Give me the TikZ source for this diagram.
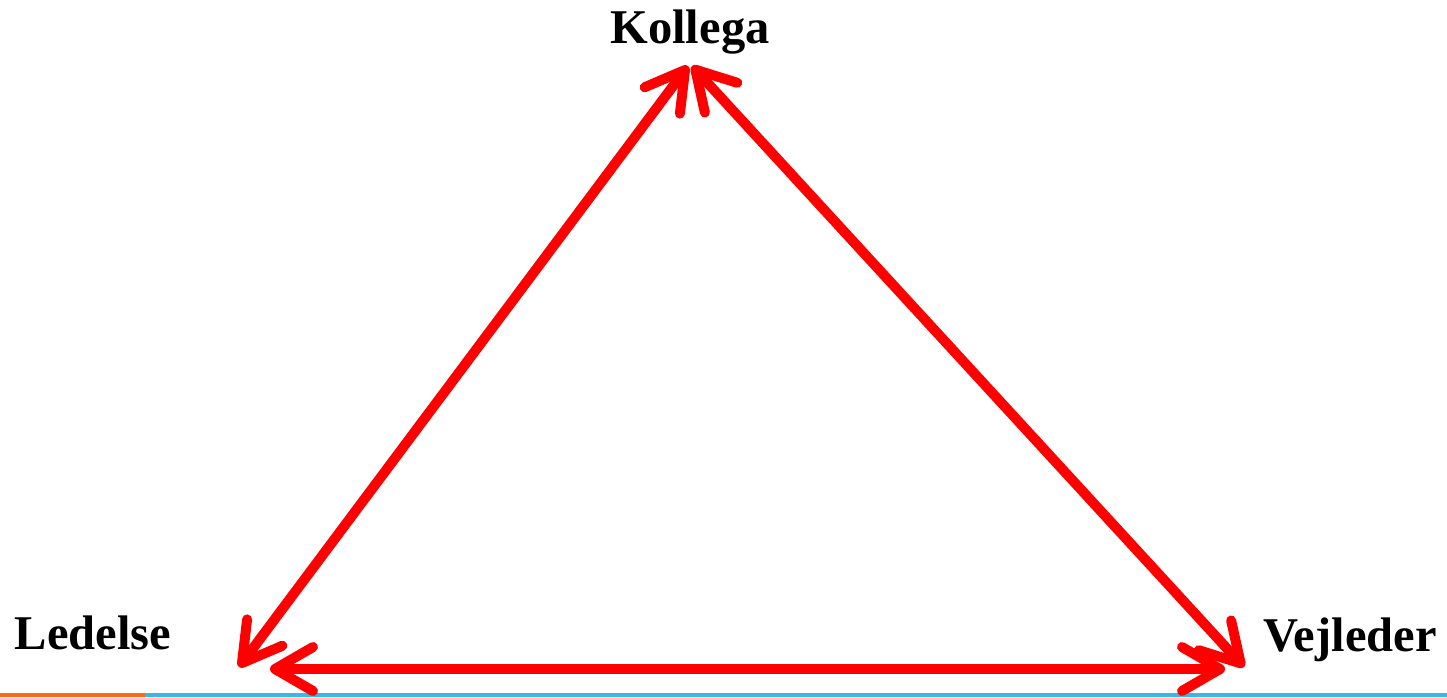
\documentclass[tikz,border=0pt]{standalone}
\usepackage{fontspec}
\setmainfont{Liberation Serif}
\usetikzlibrary{arrows.meta}
\definecolor{arrred}{RGB}{255,0,0}
\definecolor{barorange}{RGB}{255,106,26}
\definecolor{barblue}{RGB}{61,181,230}
\tikzset{
  lbl/.style={font=\fontsize{48.5}{52}\selectfont\bfseries, inner sep=0pt, anchor=base},
  link/.style={draw=arrred, line width=10pt, line cap=round,
    {Straight Barb[length=38pt,width=44pt,round]}-{Straight Barb[length=38pt,width=44pt,round]}}
}
\begin{document}
\begin{tikzpicture}[x=1pt,y=-1pt]
\useasboundingbox (0,0) rectangle (1447,697);
\fill[barorange] (0,693) rectangle (145,697);
\fill[barblue] (145,693) rectangle (1447,697);
\node[lbl] (tk) at (690,43) {Kollega};
\node[lbl] (tl) at (93,649) {Ledelse};
\node[lbl] (tv) at (1350,651) {Vejleder};
\coordinate (kolL) at (688,66);
\coordinate (kolR) at (692,66);
\coordinate (led) at (239,667);
\coordinate (vej) at (1244,667);
\coordinate (ledB) at (270,669);
\coordinate (vejB) at (1225,669);
\draw[link] (led) -- (kolL);
\draw[link] (kolR) -- (vej);
\draw[link] (ledB) -- (vejB);
\end{tikzpicture}
\end{document}
